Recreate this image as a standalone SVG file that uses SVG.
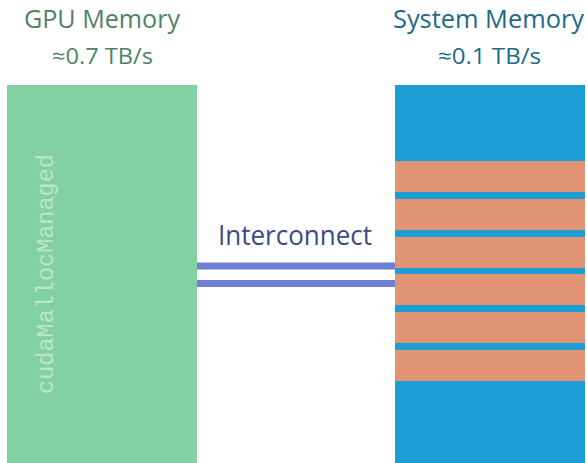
<svg xmlns="http://www.w3.org/2000/svg" width="587" height="463" viewBox="0 0 587 463">
<style>
.t{font-family:"Open Sans","Noto Sans",sans-serif;text-anchor:middle}
.gpu{fill:#4e8268}
.sys{fill:#1d6a8a}
.stripe{fill:#e09474}
.link{stroke:#6f7fd1;stroke-width:7}
</style>
<rect width="587" height="463" fill="#ffffff"/>
<g id="gpu">
<text class="t gpu" x="102" y="27.5" font-size="25.5" textLength="156" lengthAdjust="spacingAndGlyphs">GPU Memory</text>
<text class="t gpu" x="102.5" y="64" font-size="22" textLength="101" lengthAdjust="spacingAndGlyphs">≈0.7 TB/s</text>
<rect x="7" y="85" width="190" height="378" fill="#83d0a2"/>
<text x="53" y="274" transform="rotate(-90 53 274)" font-family="'Liberation Mono','DejaVu Sans Mono',monospace" font-size="23.5" fill="#b9e6cc" text-anchor="middle">cudaMallocManaged</text>
</g>
<g id="system">
<text class="t sys" x="488.5" y="27.5" font-size="25.5" textLength="191" lengthAdjust="spacingAndGlyphs">System Memory</text>
<text class="t sys" x="489.5" y="64" font-size="22" textLength="103" lengthAdjust="spacingAndGlyphs">≈0.1 TB/s</text>
<rect x="395" y="85" width="190" height="378" fill="#1c9ed5"/>
<rect class="stripe" x="395" y="161" width="190" height="31"/>
<rect class="stripe" x="395" y="199" width="190" height="31"/>
<rect class="stripe" x="395" y="237" width="190" height="31"/>
<rect class="stripe" x="395" y="274" width="190" height="31"/>
<rect class="stripe" x="395" y="312" width="190" height="31"/>
<rect class="stripe" x="395" y="350" width="190" height="31"/>
</g>
<g id="connectors">
<line class="link" x1="197" y1="266" x2="395" y2="266"/>
<line class="link" x1="197" y1="283.5" x2="395" y2="283.5"/>
<text class="t" x="295" y="245" font-size="26.5" fill="#3c4a86" textLength="154" lengthAdjust="spacingAndGlyphs">Interconnect</text>
</g>
</svg>
